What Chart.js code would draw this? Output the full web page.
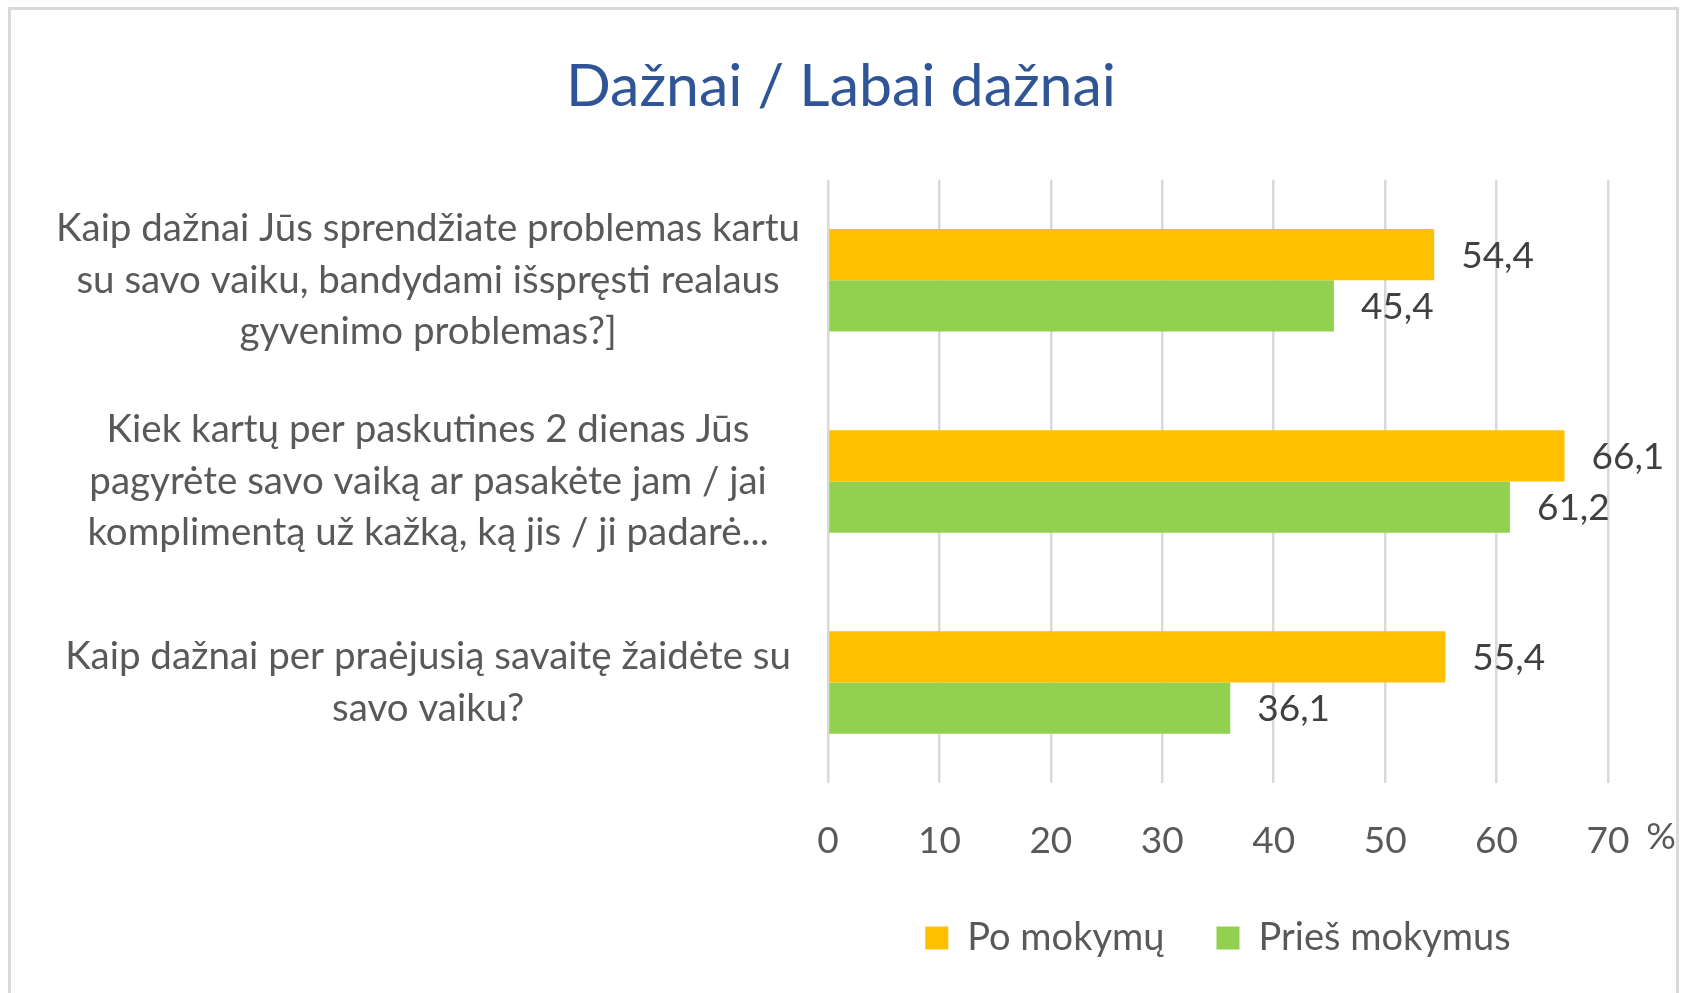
<!DOCTYPE html>
<html>
<head>
<meta charset="utf-8">
<script src="https://cdn.jsdelivr.net/npm/chart.js@4"></script>
<style>
  html, body { margin: 0; padding: 0; background: #fff; overflow: hidden; }
  #frame {
    position: absolute; left: 8px; top: 7px; width: 1671px; height: 1100px;
    border: 3px solid #d9d9d9; box-sizing: border-box;
  }
  #chart { position: absolute; left: 0; top: 0; }
</style>
</head>
<body>
<div id="frame"></div>
<canvas id="chart" width="1682" height="993"></canvas>
<script>
// categories (one array of lines per question)
const questions = [
  ['Kaip dažnai Jūs sprendžiate problemas kartu', 'su savo vaiku, bandydami išspręsti realaus', 'gyvenimo problemas?]'],
  ['Kiek kartų per paskutines 2 dienas Jūs', 'pagyrėte savo vaiką ar pasakėte jam / jai', 'komplimentą už kažką, ką jis / ji padarė...'],
  ['Kaip dažnai per praėjusią savaitę žaidėte su', 'savo vaiku?']
];
const seriesNames = ['Po mokymų', 'Prieš mokymus'];
const afterTraining = [54.4, 66.1, 55.4];
const beforeTraining = [45.4, 61.2, 36.1];
const xTicks = [0, 10, 20, 30, 40, 50, 60, 70];

const FONT = 'Lato';
const fmt = v => v.toFixed(1).replace('.', ',');

// value labels to the right of each bar
const barValues = {
  id: 'barValues',
  afterDatasetsDraw(chart) {
    const ctx = chart.ctx;
    ctx.save();
    ctx.font = '37px ' + FONT;
    ctx.fillStyle = '#404040';
    ctx.textAlign = 'left';
    ctx.textBaseline = 'middle';
    chart.data.datasets.forEach((ds, i) => {
      chart.getDatasetMeta(i).data.forEach((bar, j) => {
        ctx.fillText(fmt(ds.data[j]), bar.x + 27, bar.y + 1);
      });
    });
    ctx.restore();
  }
};

// "%" unit next to the last x tick
const unitLabel = {
  id: 'unitLabel',
  afterDraw(chart) {
    const x = chart.scales.x;
    const ctx = chart.ctx;
    ctx.save();
    ctx.font = '37px ' + FONT;
    ctx.fillStyle = '#595959';
    ctx.textAlign = 'center';
    ctx.textBaseline = 'top';
    ctx.fillText('%', x.right + 53, x.top + x.options.ticks.padding);
    ctx.restore();
  }
};

function draw() {
  new Chart(document.getElementById('chart'), {
    type: 'bar',
    data: {
      labels: questions,
      datasets: [
        { label: seriesNames[0], data: afterTraining, backgroundColor: '#FFC000' },
        { label: seriesNames[1], data: beforeTraining, backgroundColor: '#92D050' }
      ]
    },
    options: {
      indexAxis: 'y',
      responsive: false,
      animation: false,
      devicePixelRatio: 1,
      layout: { padding: { left: 0, right: 0, top: 0, bottom: 26 } },
      datasets: { bar: { categoryPercentage: 0.51, barPercentage: 1 } },
      scales: {
        x: {
          min: 0, max: 70,
          afterBuildTicks: s => { s.ticks = xTicks.map(v => ({ value: v })); },
          afterFit: s => { s.height = 84; },
          grid: { color: '#d9d9d9', lineWidth: 2.5, drawTicks: false },
          border: { display: false },
          ticks: { padding: 36, color: '#595959', font: { family: FONT, size: 37 } }
        },
        y: {
          afterFit: s => { s.width = 828; },
          grid: { display: false, drawTicks: false },
          border: { display: false },
          ticks: {
            crossAlign: 'center', padding: 28, color: '#595959',
            font: { family: FONT, size: 38.5, lineHeight: 1.34 }
          }
        },
        // empty right-hand strip that leaves room for the "%" unit
        pad: {
          type: 'linear', position: 'right',
          afterFit: s => { s.width = 74; },
          grid: { display: false, drawTicks: false },
          border: { display: false },
          ticks: { display: false }
        }
      },
      plugins: {
        title: {
          display: true,
          text: 'Dažnai / Labai dažnai',
          color: '#2F5597',
          font: { family: FONT, size: 59, weight: 'normal' },
          padding: { top: 52, bottom: 57 }
        },
        legend: {
          position: 'bottom',
          fullSize: false,
          labels: {
            boxWidth: 23, boxHeight: 23, padding: 52, color: '#595959',
            font: { family: FONT, size: 38 }
          }
        },
        tooltip: { enabled: false }
      }
    },
    plugins: [barValues, unitLabel]
  });
}

document.fonts.load('38px ' + FONT).then(draw, draw);
</script>
</body>
</html>
